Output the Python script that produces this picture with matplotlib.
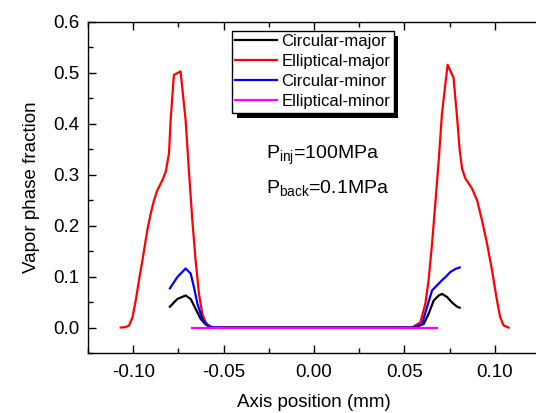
import numpy as np
import matplotlib
matplotlib.use("Agg")
import matplotlib.pyplot as plt
from matplotlib.patches import Rectangle
from matplotlib.ticker import MultipleLocator

plt.rcParams['font.family'] = ['Liberation Sans', 'DejaVu Sans']
plt.rcParams['mathtext.fontset'] = 'custom'
plt.rcParams['mathtext.rm'] = 'Liberation Sans'
plt.rcParams['mathtext.it'] = 'Liberation Sans'

# Elliptical-major (red)
ell_major_x = [-0.1069, -0.1041, -0.1023, -0.1004, -0.0986, -0.0968, -0.0949, -0.0922,
               -0.0903, -0.0885, -0.0866, -0.0839, -0.0820, -0.0802, -0.0793, -0.0775,
               -0.0738, -0.0710, -0.0692, -0.0673, -0.0655, -0.0636, -0.0618, -0.0599,
               -0.0581, -0.0562,
               0.0540, 0.0551, 0.0588, 0.0616, 0.0634, 0.0653, 0.0671, 0.0690, 0.0708,
               0.0739, 0.0772, 0.0791, 0.0806, 0.0819, 0.0837, 0.0874, 0.0902, 0.0929,
               0.0957, 0.0985, 0.1012, 0.1030, 0.1049, 0.1076]
ell_major_y = [0.0, 0.001, 0.004, 0.020, 0.053, 0.093, 0.132, 0.191,
               0.224, 0.250, 0.270, 0.289, 0.306, 0.342, 0.407, 0.496,
               0.503, 0.407, 0.309, 0.211, 0.132, 0.066, 0.027, 0.010,
               0.004, 0.0,
               0.0, 0.002, 0.010, 0.047, 0.093, 0.165, 0.244, 0.329, 0.421,
               0.516, 0.490, 0.414, 0.348, 0.312, 0.293, 0.273, 0.250, 0.211,
               0.165, 0.112, 0.053, 0.020, 0.004, 0.0]

# Circular-major (black)
circ_major_x = [-0.0797, -0.0756, -0.0710, -0.0682, -0.0655, -0.0627, -0.0599, -0.0572,
                -0.0550, 0.0553, 0.0607, 0.0634, 0.0662, 0.0690, 0.0708, 0.0736, 0.0764,
                0.0791, 0.0806]
circ_major_y = [0.041, 0.056, 0.063, 0.056, 0.037, 0.017, 0.006, 0.001,
                0.0, 0.0, 0.007, 0.027, 0.053, 0.063, 0.066, 0.060, 0.049,
                0.041, 0.039]

# Circular-minor (blue)
circ_minor_x = [-0.0797, -0.0756, -0.0710, -0.0682, -0.0664, -0.0645, -0.0618, -0.0590,
                -0.0562, 0.0551, 0.0598, 0.0625, 0.0653, 0.0681, 0.0708, 0.0727, 0.0754,
                0.0782, 0.0806]
circ_minor_y = [0.077, 0.099, 0.116, 0.106, 0.079, 0.047, 0.017, 0.004,
                0.0, 0.0, 0.007, 0.040, 0.073, 0.083, 0.093, 0.099, 0.109,
                0.115, 0.118]

# Elliptical-minor (magenta)
ell_minor_x = [-0.0675, 0.0680]
ell_minor_y = [0.0, 0.0]

fig = plt.figure(figsize=(5.36, 4.13), dpi=100)
ax = fig.add_axes([88 / 536, 60 / 413, 452 / 536, 331 / 413])

lw = 1.6
ax.plot(circ_major_x, circ_major_y, color='black', lw=lw, label='Circular-major')
ax.plot(ell_major_x, ell_major_y, color='red', lw=lw, label='Elliptical-major')
ax.plot(circ_minor_x, circ_minor_y, color='blue', lw=lw, label='Circular-minor')
ax.plot(ell_minor_x, ell_minor_y, color='magenta', lw=lw, label='Elliptical-minor')

ax.set_xlim(-0.125, 0.125)
ax.set_ylim(-0.05, 0.6)
ax.xaxis.set_major_locator(MultipleLocator(0.05))
ax.xaxis.set_minor_locator(MultipleLocator(0.025))
ax.yaxis.set_major_locator(MultipleLocator(0.1))
ax.yaxis.set_minor_locator(MultipleLocator(0.05))
ax.xaxis.set_major_formatter(plt.FuncFormatter(lambda v, p: f"{v:.2f}"))
ax.yaxis.set_major_formatter(plt.FuncFormatter(lambda v, p: f"{v:.1f}"))

ax.tick_params(which='both', direction='in', top=True, right=False, labelsize=13.5)
ax.tick_params(which='major', length=6, width=1, pad=6)
ax.tick_params(which='minor', length=3.5, width=1)
ax.tick_params(axis='x', which='major', pad=8)
for s in ax.spines.values():
    s.set_linewidth(1)

ax.set_xlabel('Axis position (mm)', fontsize=13.5, labelpad=9)
ax.set_ylabel('Vapor phase fraction', fontsize=13.5, labelpad=10)

leg = ax.legend(loc='upper left', bbox_to_anchor=(232 / 536, 1 - 31 / 413),
                bbox_transform=fig.transFigure, fontsize=12, frameon=True,
                fancybox=False, framealpha=1, edgecolor='black',
                handlelength=2.5, handletextpad=0.25, labelspacing=0.3,
                borderpad=0.2, borderaxespad=0)
leg.get_frame().set_linewidth(1)
leg.set_zorder(10)

fig.text(266 / 536, 1 - 159 / 413, r'P$_{\mathrm{inj}}$=100MPa', fontsize=14,
         va='baseline', ha='left')
fig.text(266 / 536, 1 - 193 / 413, r'P$_{\mathrm{back}}$=0.1MPa', fontsize=14,
         va='baseline', ha='left')

# drop shadow behind legend
fig.canvas.draw()
bb = leg.get_window_extent().transformed(fig.transFigure.inverted())
dx, dy = 5 / 536, 5 / 413
shadow = Rectangle((bb.x0 + dx, bb.y0 - dy), bb.width, bb.height,
                   transform=fig.transFigure, facecolor='black', edgecolor='none',
                   zorder=9)
ax.add_artist(shadow)
shadow.set_clip_on(False)

fig.savefig('out.png', dpi=100)
